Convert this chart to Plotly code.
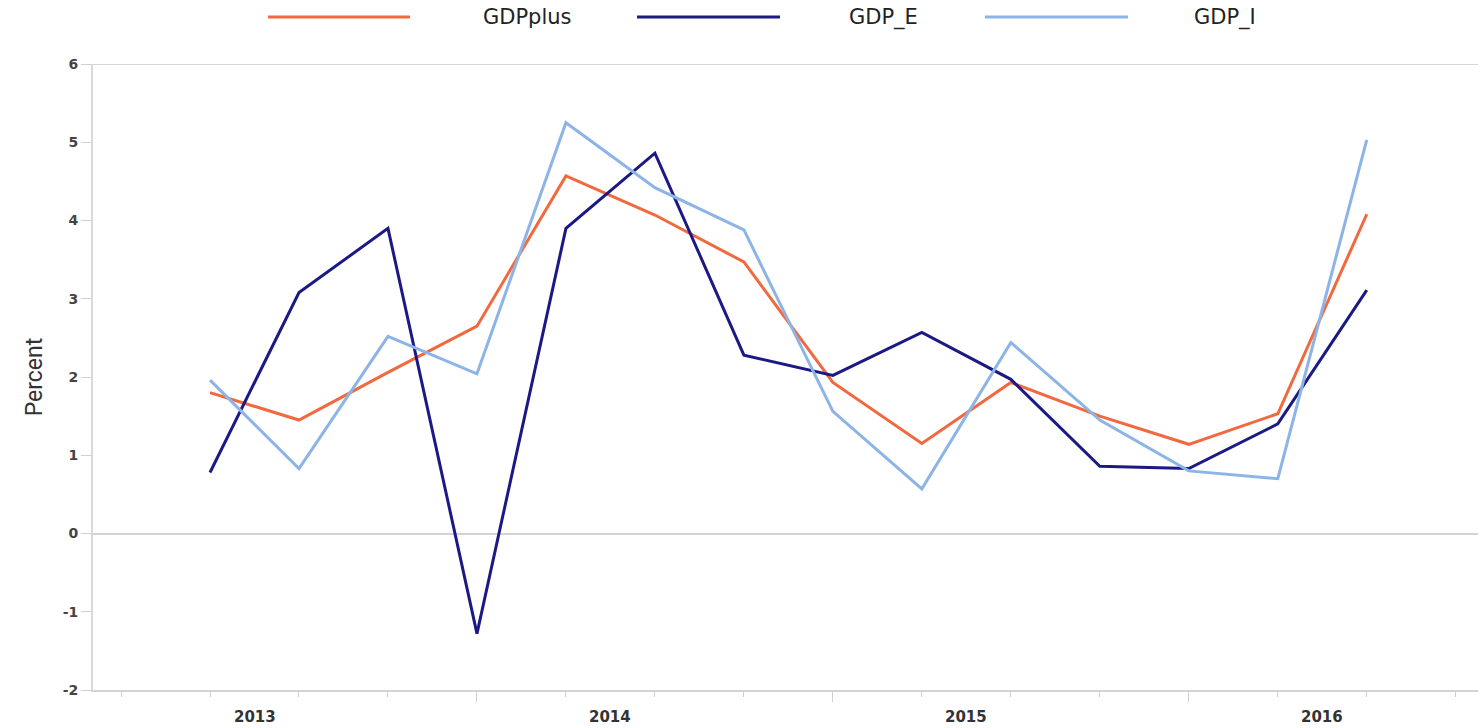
import plotly.graph_objects as go

quarters = ["2013Q1", "2013Q2", "2013Q3", "2013Q4", "2014Q1", "2014Q2", "2014Q3",
            "2014Q4", "2015Q1", "2015Q2", "2015Q3", "2015Q4", "2016Q1", "2016Q2"]
gdp_plus = [1.80, 1.45, 2.06, 2.65, 4.57, 4.07, 3.47, 1.93, 1.15, 1.93, 1.50, 1.14, 1.53, 4.08]
gdp_e = [0.78, 3.08, 3.90, -1.28, 3.90, 4.86, 2.28, 2.02, 2.57, 1.97, 0.86, 0.83, 1.40, 3.11]
gdp_i = [1.96, 0.83, 2.52, 2.04, 5.25, 4.42, 3.88, 1.56, 0.57, 2.44, 1.45, 0.80, 0.70, 5.03]
year_labels = ["2013", "2014", "2015", "2016"]
year_label_pos = [0.5, 4.5, 8.5, 12.5]
year_tick_pos = [3, 7, 11]
y_ticks = [-2, -1, 0, 1, 2, 3, 4, 5, 6]
y_tick_text = ["-2", "-1", "0", "1", "2", "3", "4", "5", "6"]

series = [("GDPplus", gdp_plus, "#F0693F"),
          ("GDP_E", gdp_e, "#1B1A85"),
          ("GDP_I", gdp_i, "#8DB4E6")]

x = list(range(len(quarters)))
fig = go.Figure()
for name, vals, col in series:
    fig.add_trace(go.Scatter(x=x, y=vals, mode="lines", name=name,
                             line=dict(color=col, width=3),
                             customdata=quarters, showlegend=False))

xr = [-1.315, 14.25]
fig.update_layout(
    width=1480, height=728,
    margin=dict(l=93, r=2, t=64, b=38),
    plot_bgcolor="white", paper_bgcolor="white",
    font=dict(family="DejaVu Sans", color="#333333"),
    xaxis=dict(range=xr, showgrid=False, zeroline=False,
               showline=True, linecolor="#d3d3d3", linewidth=2,
               tickvals=year_tick_pos, ticks="outside", ticklen=10,
               tickcolor="#cfcfcf", tickwidth=1, showticklabels=False,
               minor=dict(dtick=1, tick0=0, ticks="outside", ticklen=5,
                          tickcolor="#cfcfcf", tickwidth=1)),
    yaxis=dict(range=[-2, 6], tickvals=y_ticks, ticktext=y_tick_text, showgrid=False,
               zeroline=True, zerolinecolor="#d3d3d3", zerolinewidth=2,
               showline=True, linecolor="#d9d9d9", linewidth=2,
               ticks="outside", ticklen=10, tickcolor="#d0d0d0",
               tickfont=dict(size=14, color="#444444", weight="bold"),
               title=dict(text="Percent", standoff=14,
                          font=dict(family="Liberation Sans Narrow, Roboto, sans-serif",
                                    size=23, color="#333333"))),
)

# year labels centred under each year block
for pos, lab in zip(year_label_pos, year_labels):
    fig.add_annotation(xref="x", yref="paper", x=pos, y=0, text=lab,
                       showarrow=False, xanchor="center", yanchor="middle",
                       yshift=-27, font=dict(size=15, color="#333333", weight="bold"))

# top border line at y = 6
fig.add_shape(type="line", xref="paper", yref="y", x0=0, x1=1, y0=6, y1=6,
              line=dict(color="#d6d6d6", width=2))

# custom legend with long line samples
legend_items = [("GDPplus", "#F0693F", 0.1264, 0.2289, 0.3134),
                ("GDP_E", "#1B1A85", 0.3928, 0.4960, 0.5704),
                ("GDP_I", "#8DB4E6", 0.6440, 0.7473, 0.8173)]
ly = 1.075
for name, col, x0, x1, tx in legend_items:
    fig.add_shape(type="line", xref="paper", yref="paper", x0=x0, x1=x1,
                  y0=ly, y1=ly, line=dict(color=col, width=3))
    fig.add_annotation(xref="paper", yref="paper", x=tx, y=ly, text=name,
                       showarrow=False, xanchor="center", yanchor="middle",
                       font=dict(size=21, color="#222222"))

fig.write_html("out.html", config={"displayModeBar": False},
               post_script="document.body.style.margin='0px';")
